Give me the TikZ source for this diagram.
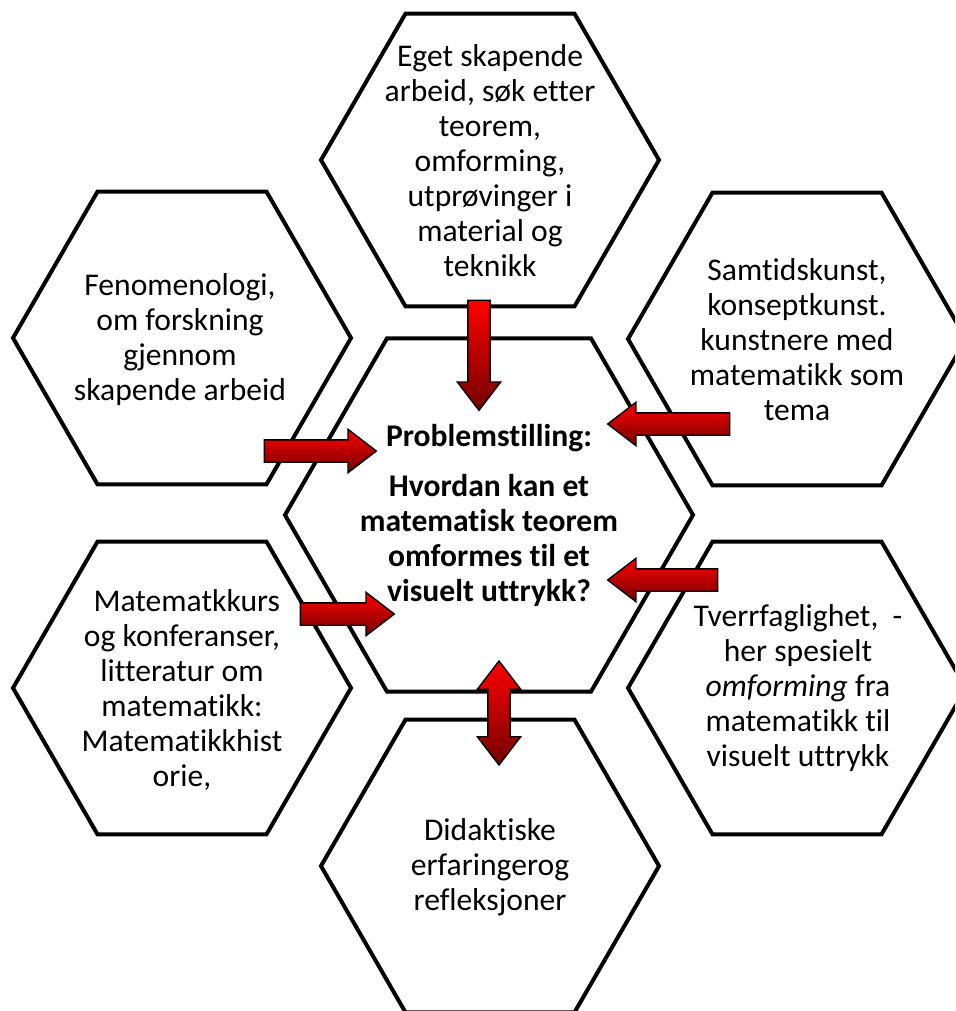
\documentclass[tikz,border=0pt]{standalone}
\usepackage{fontspec}
\setmainfont[Ligatures=NoCommon]{Carlito}
\usetikzlibrary{shapes.geometric,shapes.arrows}
\begin{document}
\begin{tikzpicture}[x=0.5pt, y=-0.5pt,
		hexa/.style = {draw, line width=2pt, regular polygon, regular polygon sides=6, inner sep=0pt, minimum size=169pt},
		hexatext/.style = {align=center, inner sep=0pt, font=\fontsize{15.8}{17.5}\selectfont},
		arrowfill/.style = {draw=black, line width=0.7pt, top color=red, bottom color=red!45!black, inner sep=5.25pt},
		redarrow/.style = {arrowfill, single arrow, single arrow tip angle=75, single arrow head extend=5.25pt},
		dblarrow/.style = {arrowfill, double arrow, double arrow tip angle=75, double arrow head extend=5.25pt}]
		\useasboundingbox (0,0) rectangle (955,1011);
		\clip (0,0) rectangle (955,1011);
		% hexagons
		\node[hexa, minimum size=204pt] (problem) at (489,515) {};
		\node[hexa] (skapende) at (490,160) {};
		\node[hexa] (fenomenologi) at (182,338) {};
		\node[hexa] (samtid) at (797,339) {};
		\node[hexa] (kurs) at (182,688) {};
		\node[hexa] (tverrfag) at (797,688) {};
		\node[hexa] (didaktikk) at (490,866) {};
		% texts
		\node[hexatext, font=\fontsize{15.8}{17.5}\selectfont\bfseries] (problem-text) at (489,515) {Problemstilling:\\[7.5pt] Hvordan kan et\\ matematisk teorem\\ omformes til et\\ visuelt uttrykk?};
		\node[hexatext] (skapende-text) at (490,161) {Eget skapende\\ arbeid, søk etter\\ teorem,\\ omforming,\\ utprøvinger i\\ material og\\ teknikk};
		\node[hexatext] (fenomenologi-text) at (180,340) {Fenomenologi,\\ om forskning\\ gjennom\\ skapende arbeid};
		\node[hexatext] (samtid-text) at (797,340) {Samtidskunst,\\ konseptkunst.\\ kunstnere med\\ matematikk som\\ tema};
		\node[hexatext] (kurs-text) at (182,690) {\hspace*{0.3em}Matematkkurs\\ og konferanser,\\ litteratur om\\ matematikk:\\ Matematikkhist\\ orie,};
		\node[hexatext] (tverrfag-text) at (798,688) {Tverrfaglighet,\ \ -\\ her spesielt\\ \textit{omforming} fra\\ matematikk til\\ visuelt uttrykk};
		\node[hexatext] (didaktikk-text) at (490,867) {Didaktiske\\ erfaringerog\\ refleksjoner};
		% arrows
		\node[redarrow, minimum height=55pt, shape border rotate=270] (arrow-skapende) at (479,348) {};
		\node[redarrow, minimum height=56pt] (arrow-fenomenologi) at (313,451) {};
		\node[redarrow, minimum height=47pt] (arrow-kurs) at (340,614) {};
		\node[redarrow, minimum height=61pt, shape border rotate=180] (arrow-samtid) at (676,424) {};
		\node[redarrow, minimum height=55pt, shape border rotate=180] (arrow-tverrfag) at (670,580) {};
		\node[dblarrow, minimum height=52pt, shape border rotate=90] (arrow-didaktikk) at (499,713) {};
	\end{tikzpicture}
\end{document}
